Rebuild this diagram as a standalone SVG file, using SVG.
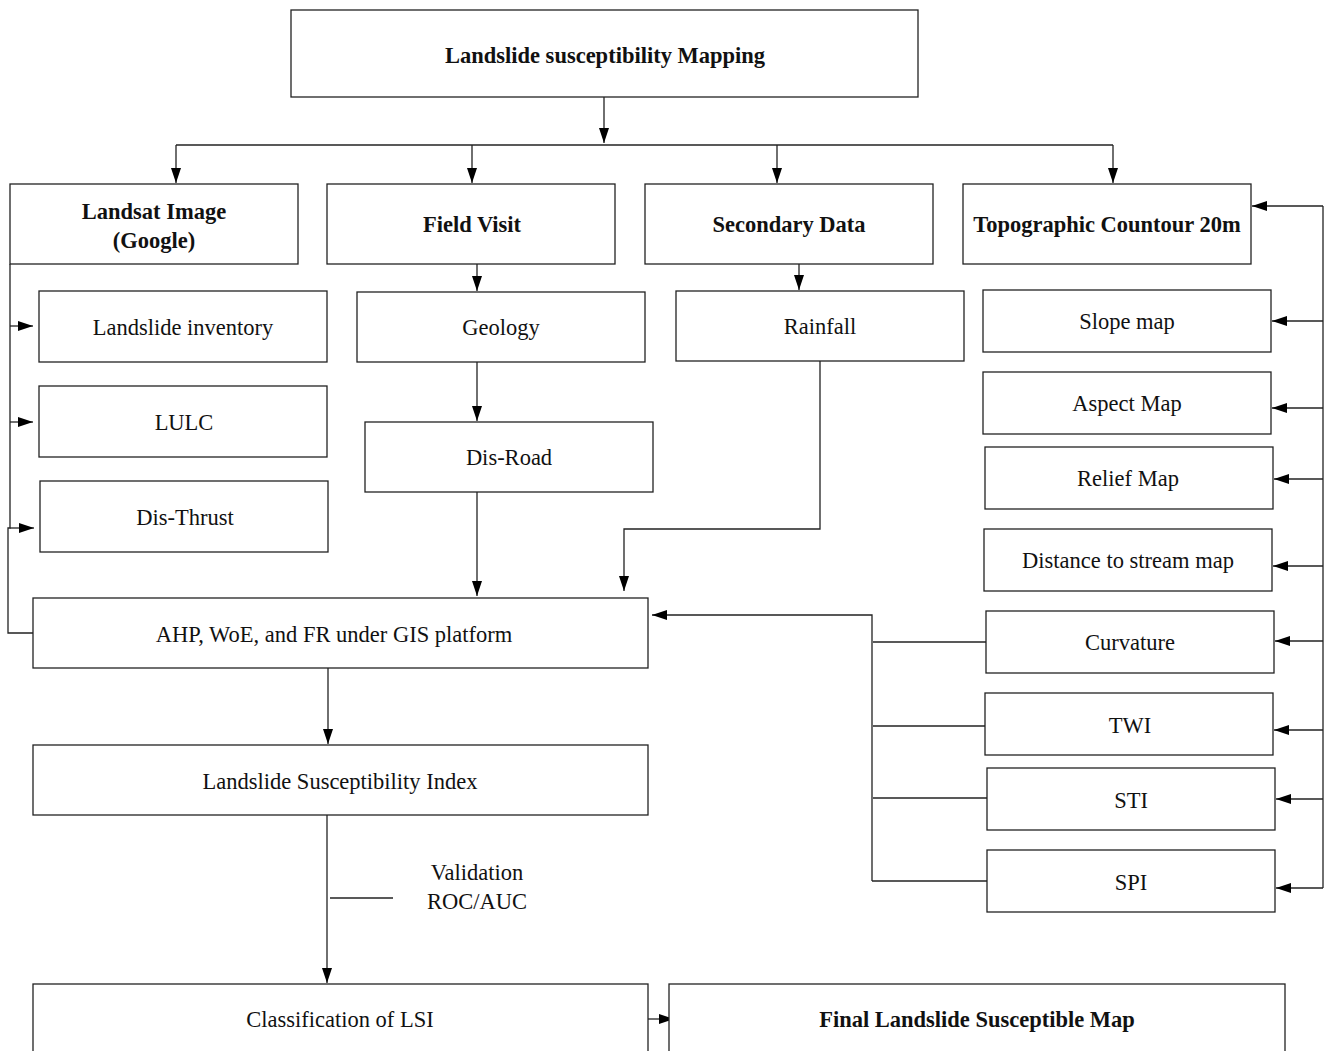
<svg xmlns="http://www.w3.org/2000/svg" width="1324" height="1051" viewBox="0 0 1324 1051">
<style>
.box{fill:#fff;stroke:#222;stroke-width:1.3}
.t{font-family:"Liberation Serif","Times New Roman",serif;font-size:22.5px;fill:#111;text-anchor:middle;dominant-baseline:central}
.b{font-weight:bold}
.c{fill:none;stroke:#222;stroke-width:1.3}
</style>
<defs>
<marker id="ah" viewBox="0 0 15 10" refX="15" refY="5" markerWidth="15" markerHeight="10" markerUnits="userSpaceOnUse" orient="auto">
<path d="M0,0 L15,5 L0,10 Z" fill="#000"/>
</marker>
</defs>
<rect width="1324" height="1051" fill="#fff"/>
<g id="connectors">
<path class="c" d="M604,97 V143" marker-end="url(#ah)"/>
<path class="c" d="M176,145 H1113"/>
<path class="c" d="M176,145 V183" marker-end="url(#ah)"/>
<path class="c" d="M472,145 V183" marker-end="url(#ah)"/>
<path class="c" d="M777,145 V183" marker-end="url(#ah)"/>
<path class="c" d="M1113,145 V183" marker-end="url(#ah)"/>
<path class="c" d="M10,264 V528 H8 V633 H33"/>
<path class="c" d="M10,326 H33" marker-end="url(#ah)"/>
<path class="c" d="M10,422 H33" marker-end="url(#ah)"/>
<path class="c" d="M10,528 H34" marker-end="url(#ah)"/>
<path class="c" d="M477,264 V291" marker-end="url(#ah)"/>
<path class="c" d="M477,362 V421" marker-end="url(#ah)"/>
<path class="c" d="M477,492 V596" marker-end="url(#ah)"/>
<path class="c" d="M799,264 V290" marker-end="url(#ah)"/>
<path class="c" d="M820,361 V529 H624 V591" marker-end="url(#ah)"/>
<path class="c" d="M872,881 V615 H652" marker-end="url(#ah)"/>
<path class="c" d="M873,642 H986"/>
<path class="c" d="M873,726 H985"/>
<path class="c" d="M873,798 H987"/>
<path class="c" d="M872,881 H987"/>
<path class="c" d="M1323,206 V888"/>
<path class="c" d="M1323,206 H1252" marker-end="url(#ah)"/>
<path class="c" d="M1323,321 H1272" marker-end="url(#ah)"/>
<path class="c" d="M1323,408 H1272" marker-end="url(#ah)"/>
<path class="c" d="M1323,479 H1274" marker-end="url(#ah)"/>
<path class="c" d="M1323,566 H1273" marker-end="url(#ah)"/>
<path class="c" d="M1323,641 H1275" marker-end="url(#ah)"/>
<path class="c" d="M1323,730 H1274" marker-end="url(#ah)"/>
<path class="c" d="M1323,799 H1276" marker-end="url(#ah)"/>
<path class="c" d="M1323,888 H1276" marker-end="url(#ah)"/>
<path class="c" d="M328,668 V744" marker-end="url(#ah)"/>
<path class="c" d="M327,815 V983" marker-end="url(#ah)"/>
<path class="c" d="M330,898 H393"/>
<path class="c" d="M647,1019 H674" marker-end="url(#ah)"/>
</g>
<g id="n-top"><rect class="box" x="291" y="10" width="627" height="87"/><text class="t b" x="605" y="55">Landslide susceptibility Mapping</text></g>
<g id="n-landsat"><rect class="box" x="10" y="184" width="288" height="80"/><text class="t b" x="154" y="211">Landsat Image</text><text class="t b" x="154" y="240">(Google)</text></g>
<g id="n-field"><rect class="box" x="327" y="184" width="288" height="80"/><text class="t b" x="472" y="224">Field Visit</text></g>
<g id="n-secondary"><rect class="box" x="645" y="184" width="288" height="80"/><text class="t b" x="789" y="224">Secondary Data</text></g>
<g id="n-topo"><rect class="box" x="963" y="184" width="288" height="80"/><text class="t b" x="1107" y="224">Topographic Countour 20m</text></g>
<g id="n-inventory"><rect class="box" x="39" y="291" width="288" height="71"/><text class="t" x="183" y="327">Landslide inventory</text></g>
<g id="n-lulc"><rect class="box" x="39" y="386" width="288" height="71"/><text class="t" x="184" y="422">LULC</text></g>
<g id="n-thrust"><rect class="box" x="40" y="481" width="288" height="71"/><text class="t" x="185" y="517">Dis-Thrust</text></g>
<g id="n-geology"><rect class="box" x="357" y="292" width="288" height="70"/><text class="t" x="501" y="327">Geology</text></g>
<g id="n-road"><rect class="box" x="365" y="422" width="288" height="70"/><text class="t" x="509" y="457">Dis-Road</text></g>
<g id="n-rainfall"><rect class="box" x="676" y="291" width="288" height="70"/><text class="t" x="820" y="326">Rainfall</text></g>
<g id="n-slope"><rect class="box" x="983" y="290" width="288" height="62"/><text class="t" x="1127" y="321">Slope map</text></g>
<g id="n-aspect"><rect class="box" x="983" y="372" width="288" height="62"/><text class="t" x="1127" y="403">Aspect Map</text></g>
<g id="n-relief"><rect class="box" x="985" y="447" width="288" height="62"/><text class="t" x="1128" y="478">Relief Map</text></g>
<g id="n-stream"><rect class="box" x="984" y="529" width="288" height="62"/><text class="t" x="1128" y="560">Distance to stream map</text></g>
<g id="n-curv"><rect class="box" x="986" y="611" width="288" height="62"/><text class="t" x="1130" y="642">Curvature</text></g>
<g id="n-twi"><rect class="box" x="985" y="693" width="288" height="62"/><text class="t" x="1130" y="725">TWI</text></g>
<g id="n-sti"><rect class="box" x="987" y="768" width="288" height="62"/><text class="t" x="1131" y="800">STI</text></g>
<g id="n-spi"><rect class="box" x="987" y="850" width="288" height="62"/><text class="t" x="1131" y="882">SPI</text></g>
<g id="n-ahp"><rect class="box" x="33" y="598" width="615" height="70"/><text class="t" x="334" y="634">AHP, WoE, and FR under GIS platform</text></g>
<g id="n-lsi"><rect class="box" x="33" y="745" width="615" height="70"/><text class="t" x="340" y="781">Landslide Susceptibility Index</text></g>
<g id="n-validation"><text class="t" x="477" y="872">Validation</text><text class="t" x="477" y="901">ROC/AUC</text></g>
<g id="n-class"><rect class="box" x="33" y="984" width="615" height="90"/><text class="t" x="340" y="1019">Classification of LSI</text></g>
<g id="n-final"><rect class="box" x="669" y="984" width="616" height="90"/><text class="t b" x="977" y="1019">Final Landslide Susceptible Map</text></g>
</svg>
